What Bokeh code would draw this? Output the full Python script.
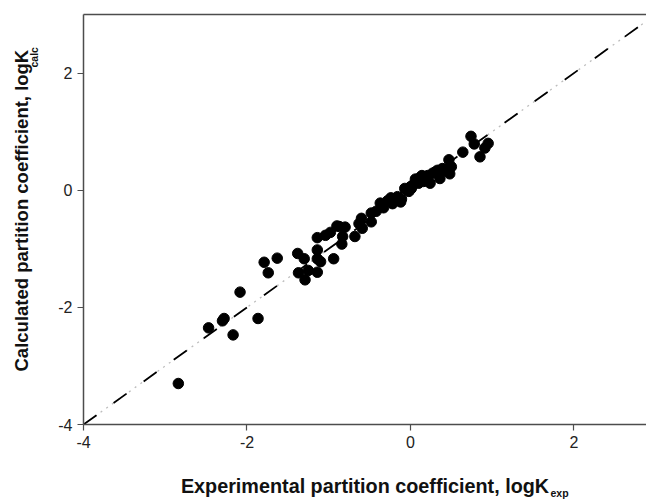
from bokeh.plotting import figure
from bokeh.models import LinearAxis, Range1d, ColumnDataSource, Title
from bokeh.embed import file_html
from bokeh.resources import INLINE

# Experimental vs calculated partition coefficients
log_k_exp = [-2.84, -2.47, -2.30, -2.28, -2.17, -2.085, -1.865, -1.79, -1.74, -1.63,
             -1.38, -1.37, -1.30, -1.29, -1.25, -1.14, -1.14, -1.14, -1.10, -1.14,
             -1.04, -0.98, -0.90, -0.80, -0.83, -0.84, -0.94, -0.68, -0.63, -0.60,
             -0.59, -0.48, -0.48, -0.42, -0.37, -0.33, -0.24, -0.22, -0.16, -0.12,
             -0.11, -0.07, -0.02, 0.01, 0.03, 0.06, 0.10, 0.14, 0.16, 0.19,
             0.24, 0.27, 0.33, 0.36, 0.39, 0.44, 0.47, 0.48, 0.50, 0.64,
             0.74, 0.78, 0.85, 0.91, 0.95, -0.05, 0.00, 0.08, 0.12, 0.21,
             0.30, 0.35, 0.41, -0.87, -0.28]
log_k_calc = [-3.30, -2.35, -2.23, -2.19, -2.47, -1.74, -2.19, -1.23, -1.41, -1.16,
              -1.08, -1.41, -1.17, -1.53, -1.37, -0.81, -1.02, -1.17, -1.22, -1.40,
              -0.77, -0.72, -0.61, -0.63, -0.79, -0.92, -1.17, -0.79, -0.57, -0.48,
              -0.65, -0.39, -0.54, -0.36, -0.22, -0.30, -0.13, -0.23, -0.11, -0.20,
              -0.15, 0.03, -0.02, 0.03, 0.09, 0.19, 0.12, 0.25, 0.15, 0.20,
              0.12, 0.29, 0.34, 0.20, 0.37, 0.33, 0.52, 0.28, 0.40, 0.65,
              0.92, 0.79, 0.57, 0.72, 0.80, 0.01, 0.06, 0.16, 0.22, 0.25,
              0.31, 0.27, 0.36, -0.62, -0.18]

x_ticks = [-4, -2, 0, 2]
y_ticks = [-4, -2, 0, 2]
tick_labels = {-4: "-4", -2: "-2", 0: "0", 2: "2"}
x_lim = (-4, 2.887)
y_lim = (-4, 3)
identity = [-4, 3]

x_title = "Experimental partition coefficient, logK"
x_sub = "exp"
y_title = "Calculated partition coefficient, logK"
y_sub = "calc"

FONT = "Liberation Sans"
AXIS_COLOR = "#4d4d4d"
TEXT_COLOR = "#111111"

p = figure(width=646, height=499, output_backend="svg", toolbar_location=None,
           x_range=Range1d(*x_lim), y_range=Range1d(*y_lim),
           min_border_left=83, min_border_right=0, min_border_top=14,
           min_border_bottom=74, outline_line_color=None,
           background_fill_color="white", border_fill_color="white")
p.grid.visible = False

# 1:1 line: grey dots in the gaps of a black long-dash line
p.line(identity, identity, line_color="#bdbdbd", line_width=1.3, line_dash="2 5")
p.line(identity, identity, line_color="black", line_width=1.8, line_dash="16 21")

src = ColumnDataSource(dict(x=log_k_exp, y=log_k_calc))
p.scatter("x", "y", source=src, size=10.5, fill_color="black", line_color="black")

for ax, ticks in ((p.xaxis[0], x_ticks), (p.yaxis[0], y_ticks)):
    ax.ticker = ticks
    ax.major_label_overrides = tick_labels
    ax.axis_line_color = AXIS_COLOR
    ax.axis_line_width = 1.5
    ax.major_tick_line_color = AXIS_COLOR
    ax.major_tick_line_width = 1.2
    ax.major_tick_out = 6
    ax.major_tick_in = 0
    ax.minor_tick_out = 0
    ax.minor_tick_in = 0
    ax.major_label_text_font = FONT
    ax.major_label_text_font_size = "16px"
    ax.major_label_text_color = "#222222"
    ax.major_label_standoff = 5

# main x title as the axis label (centred under the frame)
xa = p.xaxis[0]
xa.axis_label = x_title
xa.axis_label_text_font = FONT
xa.axis_label_text_font_style = "bold"
xa.axis_label_text_font_size = "19.8px"
xa.axis_label_text_color = TEXT_COLOR
xa.axis_label_standoff = 24

top = LinearAxis(ticker=[], axis_line_color=AXIS_COLOR, axis_line_width=1.5,
                 major_tick_out=0, major_tick_in=0, minor_tick_out=0, minor_tick_in=0,
                 major_label_text_font_size="0px", major_label_standoff=0)
p.add_layout(top, "above")

def title(text, size, offset, standoff, valign="bottom"):
    return Title(text=text, align="left", offset=offset, standoff=standoff,
                 vertical_align=valign,
                 text_font=FONT, text_font_style="bold", text_font_size=size,
                 text_color=TEXT_COLOR)

# x subscript
p.add_layout(title(x_sub, "10.5px", 467, -25, "top"), "below")
# y-axis title with subscript (subscript sits nearer the axis)
p.add_layout(title(y_sub, "10.5px", 357, 31), "left")
p.add_layout(title(y_title, "18.5px", 53, -43), "left")

open("out.html", "w").write(file_html(p, INLINE))
